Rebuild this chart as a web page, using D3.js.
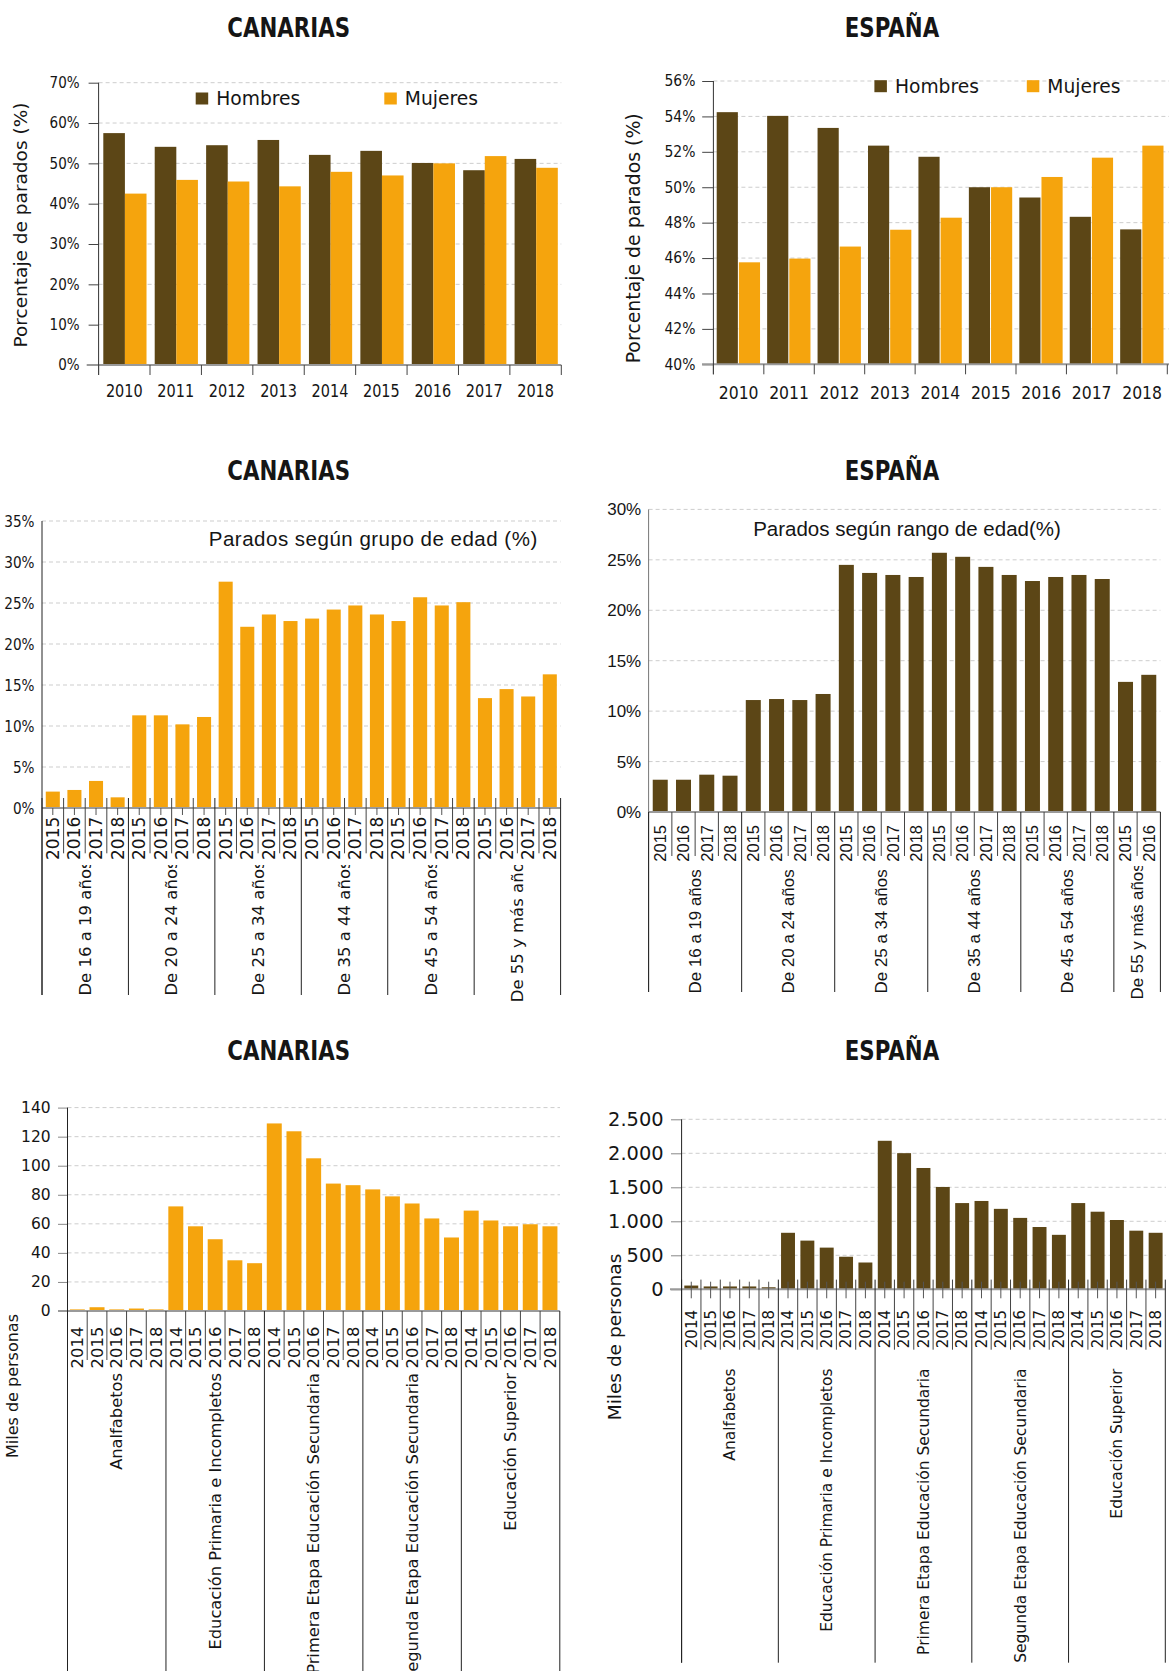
<!DOCTYPE html>
<html>
<head>
<meta charset="utf-8">
<title>Parados Canarias / España</title>
<script src="https://d3js.org/d3.v7.min.js"></script>
<style>
  body { margin: 0; background: #fff; }
  text { font-family: "DejaVu Sans", sans-serif; fill: #151515; }
</style>
</head>
<body>
<svg id="charts" width="1169" height="1671"></svg>
<script>
// ---- data ----
var years = ["2010", "2011", "2012", "2013", "2014", "2015", "2016", "2017", "2018"];
var canHombres = [57.5, 54.1, 54.5, 55.8, 52.1, 53.1, 50.1, 48.3, 51.1];
var canMujeres = [42.5, 45.9, 45.5, 44.3, 47.9, 47.0, 50.0, 51.8, 48.9];
var espHombres = [54.24, 54.03, 53.35, 52.35, 51.72, 50.0, 49.42, 48.33, 47.62];
var espMujeres = [45.76, 45.97, 46.65, 47.6, 48.28, 50.0, 50.58, 51.67, 52.35];
var genderTicksCan = [0, 10, 20, 30, 40, 50, 60, 70];
var genderTicksEsp = [40, 42, 44, 46, 48, 50, 52, 54, 56];

var ageGroups = ["De 16 a 19 años", "De 20 a 24 años", "De 25 a 34 años", "De 35 a 44 años", "De 45 a 54 años", "De 55 y más años"];
var ageYears = ["2015", "2016", "2017", "2018"];
var canAge = [
  [2.0, 2.2, 3.3, 1.3],
  [11.3, 11.3, 10.2, 11.1],
  [27.6, 22.1, 23.6, 22.8],
  [23.1, 24.2, 24.7, 23.6],
  [22.8, 25.7, 24.7, 25.1],
  [13.4, 14.5, 13.6, 16.3]
];
var espAge = [
  [3.2, 3.2, 3.7, 3.6],
  [11.1, 11.2, 11.1, 11.7],
  [24.5, 23.7, 23.5, 23.3],
  [25.7, 25.3, 24.3, 23.5],
  [22.9, 23.3, 23.5, 23.1],
  [12.9, 13.6]
];
var ageTicksCan = [0, 5, 10, 15, 20, 25, 30, 35];
var ageTicksEsp = [0, 5, 10, 15, 20, 25, 30];

var eduGroups = ["Analfabetos", "Educación Primaria e Incompletos", "Primera Etapa Educación Secundaria", "Segunda Etapa Educación Secundaria", "Educación Superior"];
var eduYears = ["2014", "2015", "2016", "2017", "2018"];
var canEdu = [
  [1.1, 2.6, 1.1, 1.7, 1.1],
  [72.0, 58.3, 49.4, 34.9, 32.9],
  [129.1, 123.7, 105.1, 87.7, 86.6],
  [83.7, 78.9, 74.0, 63.7, 50.6],
  [69.1, 62.3, 58.3, 59.7, 58.3]
];
var espEdu = [
  [55, 42, 42, 42, 30],
  [831, 716, 613, 479, 394],
  [2184, 2002, 1784, 1505, 1268],
  [1299, 1183, 1050, 916, 801],
  [1268, 1141, 1019, 862, 831]
];
var eduTicksCan = [0, 20, 40, 60, 80, 100, 120, 140];
var eduTicksEsp = [0, 500, 1000, 1500, 2000, 2500];

var brown = "#5c4616", orange = "#f5a40d";
var esNum = d3.formatLocale({decimal: ",", thousands: ".", grouping: [3], currency: ["", "€"]}).format(",d");
var pct = function(d){ return d + "%"; };

var svg = d3.select("#charts");
svg.append("rect").attr("width", 1169).attr("height", 1671).attr("fill", "#fff");

// squeeze text horizontally (the original uses a narrow font)
function squeeze(sel, k) {
  sel.each(function() {
    var w = this.getComputedTextLength();
    d3.select(this).attr("textLength", w * k).attr("lengthAdjust", "spacingAndGlyphs");
  });
}

function title(txt, x, y) {
  svg.append("text").attr("x", x).attr("y", y).attr("text-anchor", "middle")
    .style("font-weight", "bold").style("font-size", "26px").text(txt).call(squeeze, 0.82);
}

function vtitle(txt, x, y, fs) {
  svg.append("text").attr("transform", "translate(" + x + "," + y + ") rotate(-90)")
    .attr("text-anchor", "middle").attr("dy", "0.35em").style("font-size", fs + "px").text(txt);
}

function grid(y, ticks, x0, x1) {
  svg.append("g").selectAll("line").data(ticks.slice(1)).join("line")
    .attr("x1", x0).attr("x2", x1).attr("y1", y).attr("y2", y)
    .attr("stroke", "#cdcdcd").attr("stroke-dasharray", "4,3");
}

function yAxis(y, x, ticks, fmt, size, pad, font, fs, k, col) {
  var g = svg.append("g").attr("transform", "translate(" + x + ",0)")
    .call(d3.axisLeft(y).tickValues(ticks).tickFormat(fmt).tickSize(size).tickPadding(pad));
  g.select(".domain").remove();
  g.selectAll(".tick line").attr("stroke", col);
  g.selectAll(".tick text").attr("fill", "#151515").style("font-family", font).style("font-size", fs + "px").call(squeeze, k);
}

function line(x1, y1, x2, y2, col, w) {
  svg.append("line").attr("x1", x1).attr("y1", y1).attr("x2", x2).attr("y2", y2)
    .attr("stroke", col).attr("stroke-width", w || 1);
}

// ---- gender charts ----
function genderChart(o) {
  var x = d3.scaleBand().domain(years).range([o.x0, o.x1]);
  var y = d3.scaleLinear().domain(o.dom).range([o.yb, o.yt]);
  var xi = d3.scaleBand().domain(["h", "m"]).range([o.padL, x.bandwidth() - o.padR]).paddingInner(o.gap);

  grid(y, o.ticks, o.x0, o.gridEnd);

  var g = svg.append("g").selectAll("g").data(years).join("g")
    .attr("transform", function(d) { return "translate(" + x(d) + ",0)"; });
  g.append("rect").attr("x", xi("h")).attr("width", xi.bandwidth())
    .attr("y", function(d, i) { return y(o.h[i]); })
    .attr("height", function(d, i) { return o.yb - y(o.h[i]); }).attr("fill", brown);
  g.append("rect").attr("x", xi("m")).attr("width", xi.bandwidth())
    .attr("y", function(d, i) { return y(o.m[i]); })
    .attr("height", function(d, i) { return o.yb - y(o.m[i]); }).attr("fill", orange);

  yAxis(y, o.x0, o.ticks, pct, o.tickSize, o.tickPad, "DejaVu Sans", o.yfs, o.yk, "#444");

  line(o.axisFrom, o.yb, o.gridEnd, o.yb, "#9a9a9a", 2);
  line(o.x0, o.yt, o.x0, o.yb + 10, "#333");
  d3.range(years.length + 1).forEach(function(i) {
    line(o.x0 + i * x.step(), o.yb, o.x0 + i * x.step(), o.yb + 10, "#444");
  });

  var xa = svg.append("g").attr("transform", "translate(0," + o.yb + ")")
    .call(d3.axisBottom(x).tickSize(0).tickPadding(o.xPad));
  xa.select(".domain").remove();
  xa.selectAll(".tick text").attr("fill", "#151515").style("font-family", "DejaVu Sans")
    .style("font-size", "17px").call(squeeze, o.xk);

  // legend
  [["Hombres", brown, o.legH], ["Mujeres", orange, o.legM]].forEach(function(l) {
    svg.append("rect").attr("x", l[2]).attr("y", o.legY).attr("width", 12.5).attr("height", 12).attr("fill", l[1]);
    svg.append("text").attr("x", l[2] + 20.5).attr("y", o.legY + 12.5).style("font-size", "18.7px").text(l[0]);
  });
}

title("CANARIAS", 288.7, 36.7);
title("ESPAÑA", 892, 36.7);
genderChart({x0: 98.6, x1: 561.3, yb: 365, yt: 82.7, dom: [0, 70], ticks: genderTicksCan, h: canHombres, m: canMujeres,
  padL: 4.7, padR: 3.5, gap: 0, gridEnd: 561.3, axisFrom: 86.7, tickSize: 10, tickPad: 9, yfs: 15, yk: 0.9,
  xPad: 20, xk: 0.85, legY: 92.5, legH: 195.7, legM: 384.3});
genderChart({x0: 713.4, x1: 1167.3, yb: 364.3, yt: 81, dom: [40, 56], ticks: genderTicksEsp, h: espHombres, m: espMujeres,
  padL: 3.3, padR: 3.8, gap: 0.045, gridEnd: 1169, axisFrom: 702, tickSize: 11.2, tickPad: 6.8, yfs: 15, yk: 0.93,
  xPad: 22.4, xk: 0.92, legY: 80.2, legH: 874.4, legM: 1026.8});
vtitle("Porcentaje de parados (%)", 20.6, 225, 18.5);
vtitle("Porcentaje de parados (%)", 633.7, 238.3, 18.9);

// ---- grouped category charts ----
var clipId = 0;
function catChart(o) {
  var cats = [];
  o.values.forEach(function(arr, gi) {
    arr.forEach(function(v, yi) { cats.push({key: gi + "-" + yi, g: gi, yi: yi, year: o.years[yi], v: v}); });
  });
  var x = d3.scaleBand().domain(cats.map(function(c) { return c.key; })).range([o.x0, o.x1])
    .paddingInner(o.pad).paddingOuter(o.pad / 2);
  var y = d3.scaleLinear().domain(o.dom).range([o.yb, o.yt]);
  var step = x.step();
  var left = function(c) { return x(c.key) - o.pad * step / 2; };

  grid(y, o.ticks, o.x0, o.gridEnd);

  svg.append("g").selectAll("rect").data(cats).join("rect")
    .attr("x", function(c) { return x(c.key); }).attr("width", x.bandwidth())
    .attr("y", function(c) { return y(c.v); })
    .attr("height", function(c) { return o.yb - y(c.v); }).attr("fill", o.color);

  yAxis(y, o.x0, o.ticks, o.fmt, o.tickSize, o.tickPad, o.yFont, o.yfs, o.yk, "#888");

  line(o.axisFrom, o.yb, o.x1, o.yb, "#9a9a9a", 2);
  line(o.x0, o.yt, o.x0, o.groupBottom, o.yAxisCol);

  // separators between years and between groups
  cats.forEach(function(c) {
    if (c.yi > 0) line(left(c), o.sepTop, left(c), o.sepBottom, "#444");
    else line(left(c), o.sepTop, left(c), o.groupBottom, "#222");
  });
  line(o.x1, o.sepTop, o.x1, o.groupBottom, "#222");

  // year labels
  var xa = svg.append("g").attr("transform", "translate(0," + o.yb + ")")
    .call(d3.axisBottom(x).tickFormat(function(k) { return cats.find(function(c) { return c.key === k; }).year; })
      .tickSize(o.centerTick ? o.centerTick[1] : 0));
  xa.select(".domain").remove();
  if (o.centerTick) xa.selectAll(".tick line").attr("y1", o.centerTick[0]).attr("stroke", "#555");
  else xa.selectAll(".tick line").remove();
  xa.selectAll(".tick text").attr("transform", "rotate(-90)").attr("x", -o.yearTop).attr("y", 0)
    .attr("dy", "0.35em").attr("text-anchor", "end").attr("fill", "#151515")
    .style("font-family", o.xFont).style("font-size", o.yearFs + "px");

  // group labels
  var lg = svg.append("g");
  if (o.clipTop) {
    var id = "clip" + (clipId++);
    svg.append("clipPath").attr("id", id).append("rect")
      .attr("x", o.x0 - 20).attr("y", o.clipTop).attr("width", o.x1 - o.x0 + 40).attr("height", 400);
    lg.attr("clip-path", "url(#" + id + ")");
  }
  o.groups.forEach(function(name, gi) {
    var gc = cats.filter(function(c) { return c.g === gi; });
    var a = left(gc[0]), b = left(gc[gc.length - 1]) + step;
    lg.append("text").attr("transform", "translate(" + ((a + b) / 2) + "," + o.groupY + ") rotate(-90)")
      .attr("text-anchor", o.groupAnchor).attr("dy", "0.35em")
      .style("font-family", o.xFont).style("font-size", o.groupFs + "px").text(name);
  });
}

title("CANARIAS", 288.7, 480.2);
title("ESPAÑA", 892, 480.2);
catChart({values: canAge, years: ageYears, groups: ageGroups, color: orange,
  x0: 42, x1: 560.6, yb: 808, yt: 521, dom: [0, 35], ticks: ageTicksCan, fmt: pct, pad: 0.35,
  gridEnd: 560.6, axisFrom: 42, tickSize: 0, tickPad: 7.5, yFont: "DejaVu Sans", yfs: 16, yk: 0.85,
  yAxisCol: "#222", sepTop: 798, sepBottom: 853.3, groupBottom: 995, centerTick: [0, 7],
  xFont: "DejaVu Sans", yearTop: 8.7, yearFs: 17, groupY: 928, groupAnchor: "middle", groupFs: 16.5, clipTop: 865});
catChart({values: espAge, years: ageYears, groups: ageGroups, color: brown,
  x0: 648.6, x1: 1160.4, yb: 812, yt: 509.4, dom: [0, 30], ticks: ageTicksEsp, fmt: pct, pad: 0.355,
  gridEnd: 1160.4, axisFrom: 648.6, tickSize: 0, tickPad: 7.4, yFont: "Liberation Sans", yfs: 17, yk: 1,
  yAxisCol: "#777", sepTop: 812, sepBottom: 856, groupBottom: 992, centerTick: null,
  xFont: "Liberation Sans", yearTop: 13, yearFs: 16.5, groupY: 931.4, groupAnchor: "middle", groupFs: 16.9, clipTop: 866});
svg.append("text").attr("x", 208.8).attr("y", 546).style("font-family", "Liberation Sans")
  .style("font-size", "20.5px").style("letter-spacing", "0.5px").text("Parados según grupo de edad (%)");
svg.append("text").attr("x", 907).attr("y", 535.7).attr("text-anchor", "middle").style("font-family", "Liberation Sans")
  .style("font-size", "20.5px").text("Parados según rango de edad(%)");

title("CANARIAS", 288.7, 1059.6);
title("ESPAÑA", 892, 1059.6);
catChart({values: canEdu, years: eduYears, groups: eduGroups, color: orange,
  x0: 67.5, x1: 559.8, yb: 1311, yt: 1107.6, dom: [0, 140], ticks: eduTicksCan, fmt: esNum, pad: 0.24,
  gridEnd: 560, axisFrom: 58, tickSize: 9.5, tickPad: 7.4, yFont: "DejaVu Sans", yfs: 15.5, yk: 1,
  yAxisCol: "#222", sepTop: 1311, sepBottom: 1360, groupBottom: 1671, centerTick: null,
  xFont: "DejaVu Sans", yearTop: 15.7, yearFs: 16.4, groupY: 1373, groupAnchor: "end", groupFs: 16.3, clipTop: null});
catChart({values: espEdu, years: eduYears, groups: eduGroups, color: brown,
  x0: 681.6, x1: 1165.3, yb: 1289.3, yt: 1119.3, dom: [0, 2500], ticks: eduTicksEsp, fmt: esNum, pad: 0.28,
  gridEnd: 1166, axisFrom: 670, tickSize: 10.6, tickPad: 7.4, yFont: "DejaVu Sans", yfs: 20, yk: 0.97,
  yAxisCol: "#222", sepTop: 1279.6, sepBottom: 1349.7, groupBottom: 1662.7, centerTick: [-7.6, 9],
  xFont: "DejaVu Sans", yearTop: 20.7, yearFs: 15, groupY: 1368.5, groupAnchor: "end", groupFs: 15.5, clipTop: null});
vtitle("Miles de personas", 12, 1386, 16);
vtitle("Miles de personas", 615, 1337, 18.5);
</script>
</body>
</html>
